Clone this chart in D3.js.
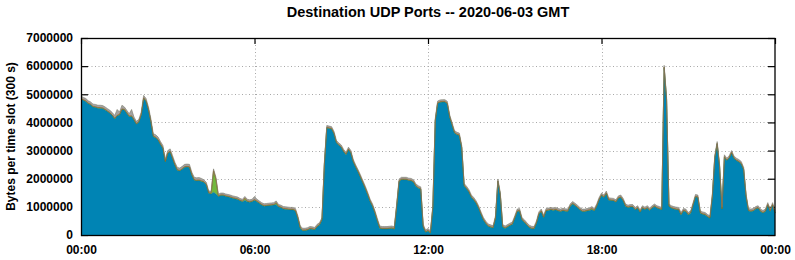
<!DOCTYPE html>
<html><head><meta charset="utf-8">
<script src="https://cdn.jsdelivr.net/npm/d3@7"></script>
<style>
body{margin:0;background:#fff}
svg{display:block}
text{font-family:"Liberation Sans",Arial,Helvetica,sans-serif;font-weight:bold;fill:#000}
</style>
</head><body>
<svg id="chart" width="795" height="260"></svg>
<script>
// ---------- data ----------
const chartTitle = "Destination UDP Ports -- 2020-06-03 GMT";
const yAxisTitle = "Bytes per time slot (300 s)";
const dayStart = "2020-06-03T00:00:00Z";
const slotSeconds = 300;            // one value per 5-minute slot, 00:00 .. 24:00
const xTickHours = [0, 6, 12, 18, 24];
const xTickLabels = ["00:00", "06:00", "12:00", "18:00", "00:00"];
const yTickValues = [0, 1000000, 2000000, 3000000, 4000000, 5000000, 6000000, 7000000];
const yMax = 7000000;

// values in kilobytes (x1000 bytes), one row = one hour (12 slots)
const mainKB = [
  4835,4785,4745,4665,4625,4545,4535,4505,4505,4495,4445,4385,
  4325,4245,4125,4235,4265,4455,4445,4325,4205,4215,4085,3935,
  4005,4265,4855,4745,4445,4025,3495,3455,3375,3215,3075,2595,
  2895,2955,2715,2475,2295,2275,2335,2405,2415,2405,2125,1945,
  1925,1935,1905,1875,1785,1485,1455,1515,1455,1365,1405,1405,
  1375,1355,1335,1305,1285,1265,1215,1185,1225,1185,1165,1185,
  1235,1185,1125,1065,1025,1035,1045,1055,1065,1075,995,975,
  925,915,905,895,895,855,595,235,155,155,175,215,
  205,185,295,355,535,2515,3805,3785,3765,3595,3275,3185,
  3115,2955,2855,3035,2915,2595,2405,2235,2045,1845,1645,1425,
  1185,1015,775,495,235,215,215,215,225,235,205,1015,
  1905,1965,1965,1965,1935,1925,1875,1725,1665,1625,295,95,
  145,65,955,4045,4675,4715,4725,4725,4665,4185,3905,3625,
  3565,3535,3095,1745,1645,1525,1335,1245,1125,955,735,535,
  405,305,275,245,595,1905,1425,285,235,285,335,375,
  595,835,855,535,455,355,265,225,215,415,735,835,
  615,855,875,895,875,895,855,835,865,845,835,1015,
  1105,1045,975,895,835,835,855,875,895,855,1015,1245,
  1405,1335,1475,1235,1225,1215,1165,1305,1335,1215,1015,975,
  995,995,895,955,805,955,905,955,875,955,1015,955,
  925,895,5945,4815,1015,955,925,905,895,715,855,835,
  715,775,1065,1355,1335,775,735,715,645,595,1365,2735,
  3235,2435,915,2765,2645,2735,2915,2715,2645,2595,2525,2315,
  1365,855,835,855,925,955,835,785,835,1065,835,1065,
  775
];
const greenKB = [
  10,10,10,10,10,10,10,10,10,10,10,10,
  10,10,10,10,10,10,10,10,10,10,10,10,
  10,10,10,10,10,10,10,10,10,10,10,10,
  10,10,10,10,10,10,10,10,10,10,10,10,
  10,10,10,10,10,10,20,760,520,10,10,10,
  10,10,10,10,10,10,10,10,70,10,10,10,
  10,10,10,10,10,10,10,10,10,60,10,10,
  10,10,10,10,10,10,10,10,10,10,10,10,
  10,10,10,10,10,10,10,10,10,10,10,10,
  10,10,10,10,10,10,10,10,10,10,10,10,
  10,10,10,10,10,10,10,10,10,10,10,10,
  10,10,10,10,10,10,10,10,10,10,10,10,
  10,10,10,10,10,10,10,10,10,10,10,10,
  10,10,10,10,10,10,10,10,10,10,10,10,
  10,10,10,10,10,10,10,10,10,10,10,10,
  10,10,10,10,10,10,10,10,10,10,10,10,
  10,10,10,10,10,10,10,10,10,10,10,10,
  10,10,10,10,10,10,10,10,40,10,10,10,
  10,10,10,10,10,10,10,10,10,10,10,10,
  10,10,10,10,10,10,10,10,10,10,10,10,
  10,10,10,10,10,10,10,10,10,10,10,10,
  10,10,10,10,10,10,10,10,10,10,10,10,
  10,10,10,10,10,10,10,10,10,10,10,10,
  10,10,10,10,10,10,10,10,10,10,10,10,
  10
];
const orangeKB = [
  15,15,15,15,15,15,15,15,15,15,15,15,
  15,15,15,15,15,15,15,15,15,15,15,15,
  15,15,15,15,15,15,15,15,15,15,15,15,
  15,15,15,15,15,15,15,15,15,15,15,15,
  15,15,15,15,15,15,15,15,15,15,15,15,
  15,15,15,15,15,15,15,15,15,15,15,15,
  15,15,15,15,15,15,15,15,15,15,15,15,
  15,15,15,15,15,15,15,15,15,15,15,15,
  15,15,15,15,15,15,15,15,15,15,15,15,
  15,15,15,15,15,15,15,15,15,15,15,15,
  15,15,15,15,15,15,15,15,15,15,15,15,
  15,15,15,15,15,15,15,15,15,15,15,15,
  15,15,15,15,15,15,15,15,15,15,15,15,
  15,15,15,15,15,15,15,15,15,15,15,15,
  15,15,15,15,15,15,15,15,15,15,15,15,
  15,15,15,15,15,15,15,15,15,15,15,15,
  15,15,15,15,15,15,15,15,15,15,15,15,
  15,15,15,15,15,15,15,15,15,15,15,15,
  15,15,15,15,15,15,15,15,15,15,15,15,
  15,15,15,15,15,15,15,15,15,15,15,15,
  15,15,15,15,15,15,15,15,15,15,15,15,
  15,15,15,15,15,15,15,15,15,15,15,15,
  15,15,15,15,15,15,15,15,15,15,15,15,
  15,15,15,15,15,15,15,15,15,15,15,15,
  15
];
const grayKB = [
  80,80,80,80,80,80,80,80,80,80,80,80,
  80,80,100,200,80,130,80,80,80,220,80,80,
  80,80,80,80,80,80,80,80,80,80,80,80,
  80,80,80,80,80,80,80,80,80,80,80,80,
  80,80,80,60,60,60,60,60,60,60,60,60,
  60,60,60,60,60,60,60,60,60,60,60,60,
  110,60,60,60,60,60,60,60,60,60,60,60,
  60,60,60,60,60,60,60,60,60,60,60,60,
  60,60,60,60,60,60,60,60,60,60,60,60,
  60,60,60,60,60,60,60,60,60,60,60,60,
  60,60,60,60,60,60,60,60,60,60,60,60,
  60,60,60,60,60,60,60,60,60,60,60,60,
  60,60,60,60,60,60,60,60,60,60,60,60,
  60,60,60,60,60,60,60,60,60,60,60,60,
  60,60,60,60,60,60,60,60,60,60,60,60,
  60,60,60,60,60,60,60,60,60,60,60,60,
  60,60,60,60,60,60,60,60,60,60,60,60,
  60,60,60,60,60,60,60,60,60,60,60,60,
  60,60,60,60,60,60,60,60,60,60,60,60,
  60,60,60,60,60,60,60,60,60,60,60,60,
  60,60,60,60,60,60,60,60,60,60,60,60,
  60,60,60,60,60,60,60,60,60,60,60,60,
  60,60,60,60,60,60,60,60,60,60,60,60,
  60,60,60,60,60,60,60,60,60,60,60,60,
  60
];
const seriesKeys = ["main", "green", "orange", "gray"];
const seriesFill = {main: "#0084b4", green: "#72b83e", orange: "#c8682e", gray: "#a2a2a2"};
const seriesStroke = {main: "#0a6f96", green: "#4f9a2a", orange: "#a8552a", gray: "#7a7a6a"};

// ---------- layout ----------
const margin = {left: 81, right: 20, top: 38, bottom: 25};
const W = 795, H = 260;
const plotL = margin.left, plotR = W - margin.right, plotT = margin.top, plotB = H - margin.bottom;

const svg = d3.select("#chart");
const t0 = new Date(dayStart).getTime();
const rows = mainKB.map((v, i) => ({
  t: new Date(t0 + i * slotSeconds * 1000),
  main: v * 1000, green: greenKB[i] * 1000, orange: orangeKB[i] * 1000, gray: grayKB[i] * 1000
}));

const x = d3.scaleUtc().domain([new Date(t0), new Date(t0 + 24 * 3600 * 1000)]).range([plotL, plotR]);
const y = d3.scaleLinear().domain([0, yMax]).range([plotB, plotT]);
const xTickDates = xTickHours.map(h => new Date(t0 + h * 3600 * 1000));

// grid
const grid = svg.append("g").attr("stroke", "#a8a8a8").attr("stroke-width", 1).attr("stroke-dasharray", "1,2.5");
grid.selectAll("line.h").data(yTickValues.filter(v => v > 0 && v < yMax)).join("line")
  .attr("x1", plotL).attr("x2", plotR)
  .attr("y1", d => Math.round(y(d)) + 0.5).attr("y2", d => Math.round(y(d)) + 0.5);
grid.selectAll("line.v").data(xTickDates.slice(1, -1)).join("line")
  .attr("x1", d => Math.round(x(d)) + 0.5).attr("x2", d => Math.round(x(d)) + 0.5)
  .attr("y1", plotT).attr("y2", plotB);

// axes (ticks inside, under the data)
const yAxisL = d3.axisLeft(y).tickValues(yTickValues).tickFormat(d3.format("d")).tickSizeInner(-7).tickSizeOuter(0).tickPadding(8);
const gyL = svg.append("g").attr("transform", `translate(${plotL},0)`).call(yAxisL);
const yAxisR = d3.axisRight(y).tickValues(yTickValues).tickFormat("").tickSizeInner(-7).tickSizeOuter(0);
const gyR = svg.append("g").attr("transform", `translate(${plotR},0)`).call(yAxisR);
const xAxisT = d3.axisTop(x).tickValues(xTickDates).tickFormat("").tickSizeInner(-6).tickSizeOuter(0);
const gxT = svg.append("g").attr("transform", `translate(0,${plotT})`).call(xAxisT);
const xAxisB = d3.axisBottom(x).tickValues(xTickDates).tickFormat((d, i) => xTickLabels[i]).tickSizeInner(0).tickSizeOuter(0).tickPadding(10);
const gxB = svg.append("g").attr("transform", `translate(0,${plotB})`).call(xAxisB);
[gyL, gyR, gxT, gxB].forEach(g => {
  g.select(".domain").remove();
  g.selectAll(".tick line").attr("stroke", "#000").attr("stroke-width", 1.2);
  g.selectAll("text").attr("font-size", 12).attr("font-family", '"Liberation Sans",Arial,sans-serif').attr("font-weight", "bold").attr("fill", "#000");
});

// stacked areas
const stack = d3.stack().keys(seriesKeys);
const layers = stack(rows);
const area = d3.area().x(d => x(d.data.t)).y0(d => y(d[0])).y1(d => y(d[1])).curve(d3.curveLinear);
const topLine = d3.line().x(d => x(d.data.t)).y(d => y(d[1])).curve(d3.curveLinear);
const gData = svg.append("g");
gData.selectAll("path.area").data(layers).join("path")
  .attr("class", "area")
  .attr("fill", d => seriesFill[d.key])
  .attr("d", area);
gData.selectAll("path.edge").data(layers).join("path")
  .attr("class", "edge")
  .attr("fill", "none")
  .attr("stroke", d => seriesStroke[d.key])
  .attr("stroke-width", 0.6)
  .attr("d", topLine);

// border
svg.append("rect").attr("x", plotL + 0.5).attr("y", plotT + 0.5)
  .attr("width", plotR - plotL - 1 + 0.5).attr("height", plotB - plotT)
  .attr("fill", "none").attr("stroke", "#000").attr("stroke-width", 1.3);

// titles
svg.append("text").attr("x", (plotL + plotR) / 2).attr("y", 16.5)
  .attr("text-anchor", "middle").attr("font-size", 14.5).text(chartTitle);
svg.append("text").attr("transform", `translate(15,${(plotT + plotB) / 2}) rotate(-90)`)
  .attr("text-anchor", "middle").attr("font-size", 12).text(yAxisTitle);
</script>
</body></html>
